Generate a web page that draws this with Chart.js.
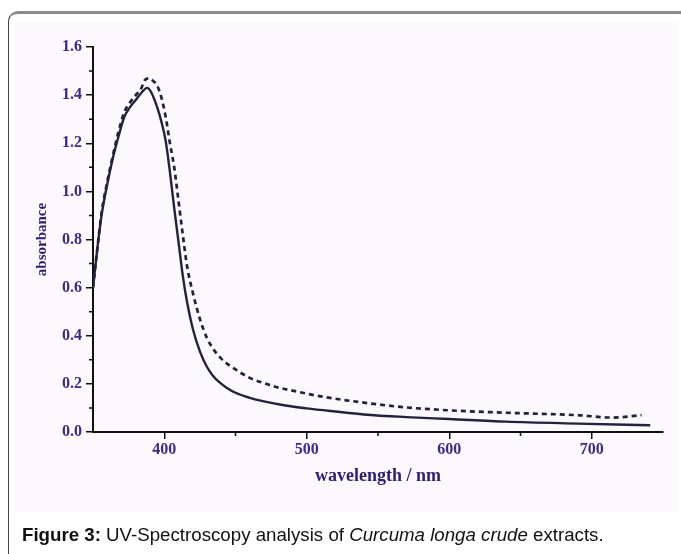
<!DOCTYPE html>
<html>
<head>
<meta charset="utf-8">
<script src="https://cdn.jsdelivr.net/npm/chart.js@4.4.0/dist/chart.umd.min.js"></script>
<style>
    html, body { margin: 0; padding: 0; background: #ffffff; }
    body { width: 681px; height: 554px; position: relative; overflow: hidden; }
    .frame {
        position: absolute; left: 8px; top: 11px; width: 700px; height: 600px;
        border-top: 3px solid #8c8c8c; border-left: 1.5px solid #444;
        border-top-left-radius: 10px;
    }
    .panel { position: absolute; left: 15px; top: 22px; width: 662px; height: 490px; background: #fbf9fe; }
    canvas { position: absolute; left: 0; top: 0; }
    .caption {
        position: absolute; left: 22px; top: 524px;
        font-family: "Liberation Sans", Arial, sans-serif; font-size: 18.7px; color: #111;
        white-space: nowrap;
    }
</style>
</head>
<body>
<div class="frame"></div>
<div class="panel"></div>
<canvas id="uvChart" width="681" height="554"></canvas>
<div class="caption"><b>Figure 3:</b> UV-Spectroscopy analysis of <i>Curcuma longa crude</i> extracts.</div>

<script>
// Spectrum values (wavelength in nm, absorbance)
const solidWavelength = [350, 353, 356, 360, 364, 368, 372, 376, 380, 384, 388, 391, 395, 398, 401, 404, 407, 410, 413, 416, 420, 425, 430, 434, 438, 444, 450, 460, 470, 485, 500, 520, 540, 570, 600, 640, 690, 741];
const solidAbsorbance = [0.60, 0.76, 0.90, 1.03, 1.14, 1.23, 1.31, 1.35, 1.38, 1.41, 1.43, 1.41, 1.35, 1.29, 1.21, 1.08, 0.93, 0.79, 0.65, 0.54, 0.43, 0.335, 0.27, 0.235, 0.21, 0.183, 0.163, 0.142, 0.127, 0.11, 0.098, 0.085, 0.073, 0.062, 0.054, 0.043, 0.035, 0.028];

const dashedWavelength = [350, 353, 356, 360, 364, 368, 372, 376, 380, 384, 386, 389, 392, 395, 398, 401, 404, 407, 410, 413, 416, 420, 425, 430, 435, 440, 450, 460, 470, 480, 490, 510, 540, 570, 600, 640, 690, 715, 735];
const dashedAbsorbance = [0.60, 0.76, 0.91, 1.04, 1.15, 1.25, 1.33, 1.37, 1.40, 1.43, 1.46, 1.47, 1.46, 1.44, 1.39, 1.31, 1.20, 1.10, 0.96, 0.82, 0.69, 0.58, 0.47, 0.39, 0.34, 0.305, 0.26, 0.225, 0.203, 0.185, 0.172, 0.148, 0.122, 0.102, 0.09, 0.08, 0.07, 0.06, 0.07];

const xTicks = [400, 500, 600, 700];
const xMinorTicks = [450, 550, 650];
const yTicks = [0, 0.2, 0.4, 0.6, 0.8, 1.0, 1.2, 1.4, 1.6];
const yMinorTicks = [0.1, 0.3, 0.5, 0.7, 0.9, 1.1, 1.3, 1.5];

const labelColor = '#3a2a8a';
const lineColor = '#22223c';

// small ticks between the labelled ones
const minorTicks = {
    id: 'minorTicks',
    afterDraw(chart) {
        const ctx = chart.ctx;
        const x = chart.scales.x, y = chart.scales.y;
        ctx.save();
        ctx.strokeStyle = '#111';
        ctx.lineWidth = 1.5;
        ctx.beginPath();
        xMinorTicks.forEach(v => {
            const px = x.getPixelForValue(v);
            ctx.moveTo(px, x.top);
            ctx.lineTo(px, x.top + 4);
        });
        yMinorTicks.forEach(v => {
            const py = y.getPixelForValue(v);
            ctx.moveTo(y.right, py);
            ctx.lineTo(y.right - 4, py);
        });
        ctx.stroke();
        ctx.restore();
    }
};

const toPoints = (xs, ys) => xs.map((v, i) => ({ x: v, y: ys[i] }));

new Chart(document.getElementById('uvChart').getContext('2d'), {
    type: 'line',
    data: {
        datasets: [
            {
                label: 'solid',
                data: toPoints(solidWavelength, solidAbsorbance),
                borderColor: lineColor,
                borderWidth: 2.4,
                pointRadius: 0,
                cubicInterpolationMode: 'monotone'
            },
            {
                label: 'dashed',
                data: toPoints(dashedWavelength, dashedAbsorbance),
                borderColor: lineColor,
                borderWidth: 2.7,
                borderDash: [5, 4],
                pointRadius: 0,
                cubicInterpolationMode: 'monotone'
            }
        ]
    },
    options: {
        responsive: false,
        animation: false,
        devicePixelRatio: 1,
        layout: { padding: { left: 0, top: 47, right: 18, bottom: 67 } },
        plugins: { legend: { display: false }, tooltip: { enabled: false } },
        scales: {
            x: {
                type: 'linear',
                min: 350,
                max: 750,
                afterBuildTicks: scale => { scale.ticks = xTicks.map(v => ({ value: v })); },
                afterFit: scale => { scale.height = 55; },
                grid: { drawOnChartArea: false, drawTicks: true, tickLength: 7, color: '#111', lineWidth: 1.5 },
                border: { display: true, color: '#111', width: 2 },
                ticks: {
                    color: labelColor,
                    padding: 1,
                    maxRotation: 0,
                    font: { family: 'Liberation Serif', size: 16, weight: 'bold' }
                },
                title: {
                    display: true,
                    text: 'wavelength / nm',
                    color: '#2c1f72',
                    padding: { top: 0, bottom: 0 },
                    font: { family: 'Liberation Serif', size: 18, weight: 'bold' }
                }
            },
            y: {
                min: 0,
                max: 1.6,
                afterBuildTicks: scale => { scale.ticks = yTicks.map(v => ({ value: v })); },
                afterFit: scale => { scale.width = 93; },
                grid: { drawOnChartArea: false, drawTicks: true, tickLength: 7, color: '#111', lineWidth: 1.5 },
                border: { display: true, color: '#111', width: 2 },
                ticks: {
                    color: labelColor,
                    padding: 4,
                    callback: v => v.toFixed(1),
                    font: { family: 'Liberation Serif', size: 16, weight: 'bold' }
                },
                title: {
                    display: true,
                    text: 'absorbance',
                    color: '#2c1f72',
                    padding: { top: 33, bottom: 0 },
                    font: { family: 'Liberation Serif', size: 15, weight: 'bold' }
                }
            }
        }
    },
    plugins: [minorTicks]
});
</script>
</body>
</html>
